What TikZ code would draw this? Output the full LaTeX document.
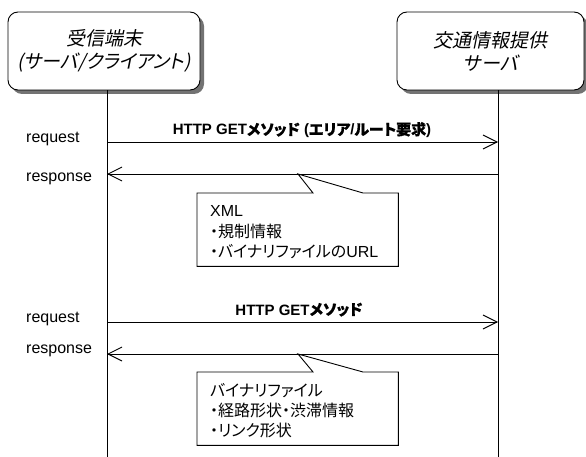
\documentclass[tikz,border=0pt]{standalone}
\usepackage{fontspec}
\setmainfont{Liberation Sans}
\newfontfamily\cjk[RawFeature=+palt]{Noto Sans CJK JP}
\newfontfamily\cjkb[RawFeature=+palt,FakeBold=0.6]{Noto Sans CJK JP}
\newfontfamily\cjki[RawFeature=+palt,FakeSlant=0.2]{Noto Sans CJK JP}
\usetikzlibrary{arrows.meta,shadows,calc}
\tikzset{
  hdr/.style={draw, line width=0.9pt, rounded corners=10pt, fill=white,
    drop shadow={shadow xshift=4pt, shadow yshift=-4pt, fill=black!55, opacity=1},
    font=\cjki\fontsize{19}{23}\selectfont, align=center, inner sep=0pt,
    minimum height=78pt},
  life/.style={line width=0.9pt},
  msg/.style={line width=0.9pt, -{Straight Barb[length=14pt,width=14pt]}},
  lbl/.style={font=\fontsize{16}{18}\selectfont, inner sep=0pt},
  ttl/.style={font=\bfseries\fontsize{15}{18}\selectfont, inner sep=0pt},
  cotext/.style={font=\fontsize{16}{20}\selectfont, inner sep=0pt, anchor=base west},
  cobox/.style={inner sep=0pt, anchor=north west, minimum width=201pt, minimum height=73pt},
  co/.style={draw, line width=0.9pt, fill=white, line join=miter}
}
\begin{document}
\begin{tikzpicture}[x=1pt,y=-1pt]
\useasboundingbox (0,0) rectangle (586,457);
% headers
\node[hdr, minimum width=192pt] (A) at (104,51) {受信端末\\(サーバ/クライアント)};
\node[hdr, minimum width=187pt] (B) at (490.5,51) {交通情報提供\\サーバ};
% lifelines
\coordinate (Lb) at (107,457);
\coordinate (Rb) at (498,457);
\draw[life] (A.south -| Lb) -- (Lb);
\draw[life] (B.south -| Rb) -- (Rb);
% first exchange
\coordinate (l1) at (107,142); \coordinate (r1) at (498,142);
\coordinate (l2) at (107,174); \coordinate (r2) at (498,174);
\draw[msg] (l1) -- (r1);
\draw[msg] (r2) -- (l2);
\node[lbl, anchor=west] (q1) at (26,139) {request};
\node[lbl, anchor=west] (s1) at (26,179) {response};
\node[ttl, anchor=base] (t1) at (302,135) {HTTP GET{\cjkb メソッド} ({\cjkb エリア}/{\cjkb ルート要求})};
% callout 1
\node[cobox] (c1) at (197,193) {};
\coordinate (p1) at (298,174);
\draw[co] (c1.north west) -- ($(c1.north west)+(116,0)$) -- (p1) -- ($(c1.north west)+(166,0)$) -- (c1.north east) -- (c1.south east) -- (c1.south west) -- cycle;
\node[cotext] (x1) at (210,217) {XML};
\node[cotext] (x2) at (210,237) {\cjk ・規制情報};
\node[cotext] (x3) at (210,257) {{\cjk ・バイナリファイルの}URL};
% second exchange
\coordinate (l3) at (107,322); \coordinate (r3) at (498,322);
\coordinate (l4) at (107,354); \coordinate (r4) at (498,354);
\draw[msg] (l3) -- (r3);
\draw[msg] (r4) -- (l4);
\node[lbl, anchor=west] (q2) at (26,319) {request};
\node[lbl, anchor=west] (s2) at (26,351) {response};
\node[ttl, anchor=base] (t2) at (299,315) {HTTP GET{\cjkb メソッド}};
% callout 2
\node[cobox] (c2) at (197,372) {};
\coordinate (p2) at (298,354);
\draw[co] (c2.north west) -- ($(c2.north west)+(116,0)$) -- (p2) -- ($(c2.north west)+(166,0)$) -- (c2.north east) -- (c2.south east) -- (c2.south west) -- cycle;
\node[cotext] (y1) at (210,396) {\cjk バイナリファイル};
\node[cotext] (y2) at (210,416) {\cjk ・経路形状・渋滞情報};
\node[cotext] (y3) at (210,436) {\cjk ・リンク形状};
\end{tikzpicture}
\end{document}
